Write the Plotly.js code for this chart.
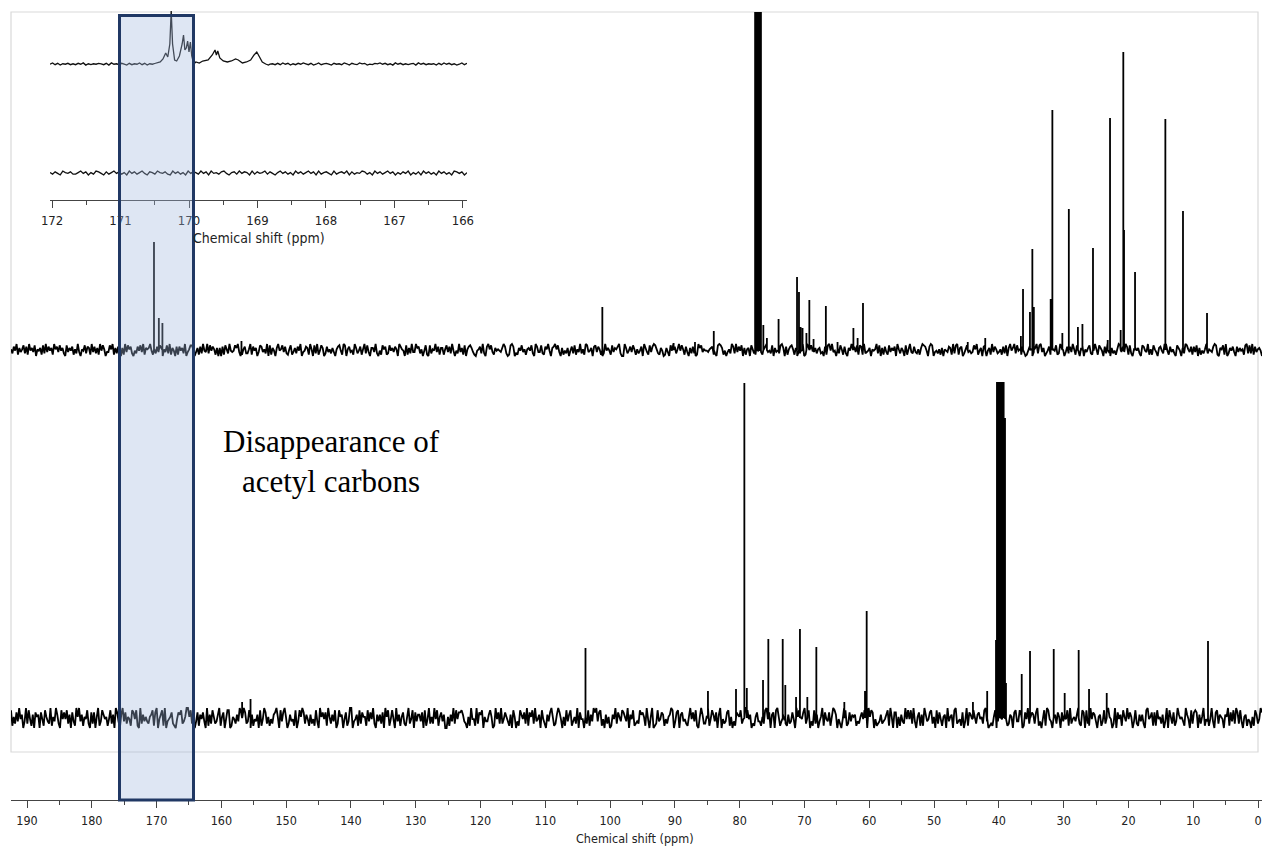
<!DOCTYPE html>
<html><head><meta charset="utf-8">
<script src="https://cdn.plot.ly/plotly-3.0.1.min.js"></script>
<style>html,body{margin:0;padding:0;background:#fff}#chart{width:1262px;height:846px}</style>
</head><body><div id="chart"></div>
<script>
// ---------- DATA ----------
const mainTickVals = [190,180,170,160,150,140,130,120,110,100,90,80,70,60,50,40,30,20,10,0];
const mainTickText = ["190","180","170","160","150","140","130","120","110","100","90","80","70","60","50","40","30","20","10","0"];
const mainMinorVals = [185,175,165,155,145,135,125,115,105,95,85,75,65,55,45,35,25,15,5];
const insetTickVals = [172,171,170,169,168,167,166];
const insetTickText = ["172","171","170","169","168","167","166"];
const insetMinorVals = [171.5,170.5,169.5,168.5,167.5,166.5];
const axisTitle = "Chemical shift (ppm)";
const noteText = "Disappearance of<br>acetyl carbons";

// upper spectrum (with acetyl groups): peak positions (ppm) and heights
const topPeakPpm = [170.4,169.65,169.1,156.9,101.2,90.2,86.9,84.0,77.62,77.47,77.32,77.16,77.01,76.86,76.72,76.35,75.8,74.0,71.15,70.85,70.6,70.3,69.7,69.25,68.6,66.7,64.9,62.45,61.8,60.97,44.8,42.1,36.6,36.27,35.2,34.83,34.6,32.0,31.74,30.2,29.2,27.8,27.1,25.47,23.2,22.84,21.2,20.79,20.68,18.98,14.3,11.58,7.87];
const topPeakH   = [108,32,27,9,43,7,8,19,338,338,338,338,338,338,338,25,12,31,73,58,23,22,17,50,11,44,8,22,12,47,8,12,14,61,38,101,43,51,240,17,141,23,26,102,10,232,20,298,120,78,231,139,37];

// lower spectrum (deacetylated): peak positions (ppm) and heights
const botPeakPpm = [156.8,155.5,103.8,84.9,80.57,79.28,78.9,76.4,75.58,73.36,72.96,71.3,70.7,69.56,68.17,63.85,60.66,60.4,44.0,41.8,40.44,40.29,40.08,39.88,39.67,39.46,39.26,39.05,38.90,36.47,35.19,31.53,29.84,27.68,26.08,23.35,7.72];
const botPeakH   = [16,19,70,27,29,335,30,38,79,79,33,21,89,21,71,16,27,107,16,27,78,336,336,336,336,336,336,300,35,44,67,69,25,68,29,25,77];

// inset (172-166 ppm) upper trace, carbonyl signal region read point by point
const insetSigPpm = [170.50,170.42,170.38,170.34,170.31,170.28,170.26,170.24,170.21,170.18,170.14,170.10,170.08,170.06,170.04,170.02,170.00,169.98,169.96,169.93,169.90,169.85,169.80,169.72,169.66,169.62,169.60,169.58,169.55,169.50,169.44,169.38,169.32,169.28,169.22,169.16,169.10,169.05,169.01,168.97,168.93,168.88,168.84];
const insetSigVal = [0.5,2,5,11,7,20,53,20,4,3,8,20,29,14,16,23,12,22,8,0,2,1,3,4,9,14,9,13,6,3,2,3,5,4,1,2,4,9,12,7,2,0,-1];

// baseline noise read as digit strings (0..9, 4.5 = baseline)
const topNoise = `5274916358 2719463805 4618293746 1957384620 8364715293 0548276193 7261948503 3859162740 6193857204 2748391656
9415273860 5382916407 1746290358 8503617294 3928475160 6071852943 4869301572 2591746038 7352908164 0694583721
5813627490 3476195082 9148602735 2630578419 8057341962 4715928306 6392041857 1284637509 7540816293 3967250481
0825493716 6158372940 4293618057 8631045729 2079583164 5436972018 9702164835 1564820973 3821759406 7958306142
6047281539 2519834607 8375102946 4183657920 0962473851 5247096318 3798521640 1630849725 9485173062 7201968354
4356712089 8614035297 2937480615 6085219473 1579342806 3428960715 7851603249 0197584362 5623071894 9340628517
2064957381 8719234605 4592806173 1836470952 6408159327 3251698740 7980342516 0543761928 9167025834 2385914607
8046193752 3517280694 6928451730 1475036928 9360247185 4812965037 2739518406 7053682149 5186407293 0624159837
3971820564 6208743915 1853067429 9417352086 4062985371 7380614259 2543798106 5819026473 0736451892 8291735640`;
const botNoise = `8152739460 3928416075 6074185329 1539620847 4826073195 9361548207 2705913864 5148260973 0693725418 7481092635
3256817904 6819034572 1047682359 9582403716 4730916285 2369157048 8015426397 5972380614 3608149725 1426795083
7950263418 0385972641 6241830957 4719526380 2856047139 9034618275 5183749206 3627095814 8409361572 1592480736
6370814925 2948157360 0516392847 7863205194 4192768053 3685019472 9247531608 5031864729 1758293460 8420637951
2697405183 6813529074 4052816397 9378140625 0164927538 7539064812 3286751940 5901283476 1425698037 8067342159
4738105962 2591486370 6904237815 0317658249 9846021573 3152894706 7089513642 1623740958 5479268031 8260359174
3715986042 0498127365 6132574890 9587041236 2346819507 7051632948 4829305716 1963478250 8274156093 5608923417
0391764852 6745289301 2158037649 9412650783 3860174925 7627913048 1984305627 5073648192 4536921870 8219476305
6138279540 2907461853 9475038216 3620894571 7184526039 0852713964 5319640827 8706259143 1493078265 4065917382
9728305614 3051862497`;
const insetTopNoise = `4736254635 3647253546 5362745364 2635473625 4536274635 6372546354 3645726354 5263745362 4635274536 3746253647
5362473564 2645375264 3756243657 4635274635 3562746354 5263746352 4736`;
const insetBotNoise = `5364275463 3574625376 4263574635 2746357426 5375463274 6352746537 4627453674 2563746527 3645736425 7463527463
5746273564 2735647263 5476352746 3574625364 7253627463 5274635276 4625`;

// ---------- BUILD ----------
function decode(s){ return s.replace(/\s+/g,'').split('').map(Number); }
function build(x0, x1, noiseStr, amp, pkX, pkH, exX, exY){
  const d = decode(noiseStr), n = d.length, pts = [];
  const lo = exX ? Math.min(...exX) : null, hi = exX ? Math.max(...exX) : null;
  for (let i = 0; i < n; i++){
    const x = x0 + (x1 - x0) * i / (n - 1);
    if (exX && x >= lo && x <= hi) continue;
    pts.push([x, (d[i] - 4.5) / 4.5 * amp]);
  }
  (pkX || []).forEach((p, i) => { pts.push([p, 0], [p, pkH[i]], [p, 0]); });
  (exX || []).forEach((x, i) => pts.push([x, exY[i]]));
  pts.sort((a, b) => b[0] - a[0]);
  return { x: pts.map(p => p[0]), y: pts.map(p => p[1]) };
}

const W = 1262, H = 846, L = 11, R = 0, T = 6, B = 46;
const plotW = W - L - R, plotH = H - T - B;
const py = p => (H - B - p) / plotH;      // pixel row -> paper y
const pxX = p => (p - L) / plotW;         // pixel col -> paper x
const ppmPerPx = 1 / 6.479;
const xR0 = 192.47, xR1 = xR0 - plotW * ppmPerPx;
const pxToPpm = p => xR0 - (p - L) * ppmPerPx;

const topS = build(xR0, xR1, topNoise, 6, topPeakPpm, topPeakH);
const botS = build(xR0, xR1, botNoise, 10, botPeakPpm, botPeakH);
const inTop = build(172.03, 165.94, insetTopNoise, 2, null, null, insetSigPpm, insetSigVal);
const inBot = build(172.03, 165.94, insetBotNoise, 3.5);

const lineMain = { color: '#000', width: 1.8, simplify: false };
const lineIn = { color: '#111', width: 1.3, simplify: false };
const traces = [
  { x: topS.x, y: topS.y, xaxis: 'x', yaxis: 'y', type: 'scatter', mode: 'lines', line: lineMain, hoverinfo: 'skip' },
  { x: botS.x, y: botS.y, xaxis: 'x', yaxis: 'y2', type: 'scatter', mode: 'lines', line: lineMain, hoverinfo: 'skip' },
  { x: inTop.x, y: inTop.y, xaxis: 'x2', yaxis: 'y3', type: 'scatter', mode: 'lines', line: lineIn, hoverinfo: 'skip' },
  { x: inBot.x, y: inBot.y, xaxis: 'x2', yaxis: 'y4', type: 'scatter', mode: 'lines', line: lineIn, hoverinfo: 'skip' }
];

const tickFam = 'Tahoma, "DejaVu Sans Condensed", "Liberation Sans", sans-serif';
const axCol = '#444';
const hiddenY = (dom, rng, anc) => ({ domain: dom, range: rng, anchor: anc, visible: false, fixedrange: true });

const layout = {
  width: W, height: H,
  margin: { l: L, r: R, t: T, b: B, pad: 0 },
  paper_bgcolor: '#fff', plot_bgcolor: 'rgba(0,0,0,0)',
  showlegend: false,
  xaxis: {
    domain: [0, 1], range: [xR0, xR1], anchor: 'free', position: 0,
    showline: true, linecolor: axCol, linewidth: 1,
    ticks: 'outside', ticklen: 7, tickwidth: 1, tickcolor: axCol,
    tickmode: 'array', tickvals: mainTickVals, ticktext: mainTickText,
    tickfont: { family: tickFam, size: 12.5, color: '#222' },
    ticklabelstandoff: 2,
    minor: { tickmode: 'array', tickvals: mainMinorVals, ticks: 'outside', ticklen: 4, tickwidth: 1, tickcolor: axCol, showgrid: false },
    showgrid: false, zeroline: false, fixedrange: true
  },
  xaxis2: {
    domain: [pxX(50), pxX(467)], range: [172.03, 165.94], anchor: 'free', position: py(200),
    showline: true, linecolor: axCol, linewidth: 1,
    ticks: 'outside', ticklen: 7, tickwidth: 1, tickcolor: axCol,
    tickmode: 'array', tickvals: insetTickVals, ticktext: insetTickText,
    tickfont: { family: tickFam, size: 13, color: '#222' },
    ticklabelstandoff: 1,
    minor: { tickmode: 'array', tickvals: insetMinorVals, ticks: 'outside', ticklen: 4, tickwidth: 1, tickcolor: axCol, showgrid: false },
    showgrid: false, zeroline: false, fixedrange: true
  },
  yaxis: hiddenY([py(372), py(6)], [-22, 344], 'x'),
  yaxis2: hiddenY([py(752), py(372)], [-34, 346], 'x'),
  yaxis3: hiddenY([py(120), py(6)], [-56, 58], 'x2'),
  yaxis4: hiddenY([py(200), py(120)], [-27, 53], 'x2'),
  shapes: [
    { type: 'rect', xref: 'paper', yref: 'paper', x0: 0, x1: pxX(1258), y0: py(752), y1: py(12),
      line: { color: '#d9d9d9', width: 1.2 }, fillcolor: 'rgba(0,0,0,0)', layer: 'below' },
    { type: 'rect', xref: 'x', yref: 'paper', x0: pxToPpm(119.5), x1: pxToPpm(193.5), y0: py(800), y1: py(15.5),
      line: { color: '#203864', width: 3 }, fillcolor: 'rgba(161,184,221,0.35)', layer: 'above' }
  ],
  annotations: [
    { xref: 'paper', yref: 'paper', x: pxX(635), y: py(838), xanchor: 'center', yanchor: 'middle', showarrow: false,
      text: axisTitle, font: { family: tickFam, size: 12.5, color: '#222' } },
    { xref: 'paper', yref: 'paper', x: pxX(259), y: py(238), xanchor: 'center', yanchor: 'middle', showarrow: false,
      text: axisTitle, font: { family: tickFam, size: 14, color: '#222' } },
    { xref: 'paper', yref: 'paper', x: pxX(331), y: py(461), xanchor: 'center', yanchor: 'middle', showarrow: false,
      text: noteText, font: { family: '"Times New Roman", "Liberation Serif", serif', size: 31, color: '#000' } }
  ]
};

Plotly.newPlot('chart', traces, layout, { displayModeBar: false, staticPlot: true });
</script>
</body></html>
